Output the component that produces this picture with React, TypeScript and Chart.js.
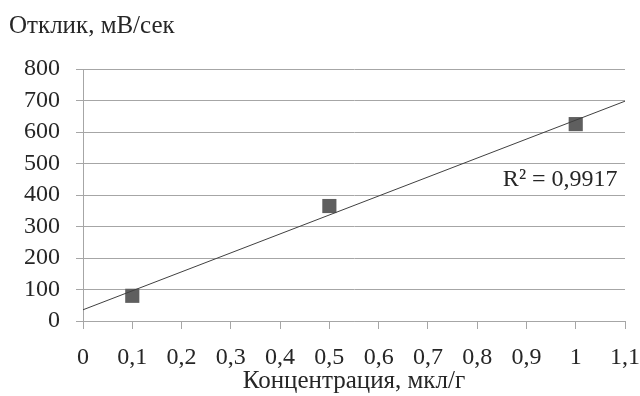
import React, { useEffect, useRef } from "react";
import { Chart, registerables } from "chart.js";

Chart.register(...registerables);

const concentrations = [0.1, 0.5, 1];
const responses = [80, 365, 625];
const xTickValues = [0, 0.1, 0.2, 0.3, 0.4, 0.5, 0.6, 0.7, 0.8, 0.9, 1, 1.1];
const xTickLabels = ["0", "0,1", "0,2", "0,3", "0,4", "0,5", "0,6", "0,7", "0,8", "0,9", "1", "1,1"];
const yTickValues = [0, 100, 200, 300, 400, 500, 600, 700, 800];
const yTitle = "Отклик, мВ/сек";
const xTitle = "Концентрация, мкл/г";
const r2Label = "R² = 0,9917";
const r2Pos = { x: 1.085, y: 448 };

const FONT = "'Liberation Serif', 'Times New Roman', serif";
const TEXT = "#262626";
const GRID = "#a6a6a6";

function regression(xs: number[], ys: number[]) {
  const n = xs.length;
  const mx = xs.reduce((a, b) => a + b, 0) / n;
  const my = ys.reduce((a, b) => a + b, 0) / n;
  let sxy = 0, sxx = 0;
  for (let i = 0; i < n; i++) {
    sxy += (xs[i] - mx) * (ys[i] - my);
    sxx += (xs[i] - mx) * (xs[i] - mx);
  }
  const slope = sxy / sxx;
  return { slope, intercept: my - slope * mx };
}

export default function App() {
  const ref = useRef<HTMLCanvasElement | null>(null);

  useEffect(() => {
    if (!ref.current) return;
    const xMin = xTickValues[0];
    const xMax = xTickValues[xTickValues.length - 1];
    const { slope, intercept } = regression(concentrations, responses);
    const trend = [xMin, xMax].map((x) => ({ x, y: intercept + slope * x }));

    const textPlugin = {
      id: "texts",
      afterDraw(chart: any) {
        const ctx = chart.ctx;
        const xs = chart.scales.x;
        const ys = chart.scales.y;
        ctx.save();
        ctx.fillStyle = TEXT;
        ctx.textBaseline = "middle";
        ctx.font = `25px ${FONT}`;
        ctx.textAlign = "left";
        ctx.fillText(yTitle, 9, 26);
        ctx.font = `24px ${FONT}`;
        ctx.textAlign = "right";
        ctx.fillText(r2Label, xs.getPixelForValue(r2Pos.x), ys.getPixelForValue(r2Pos.y));
        ctx.restore();
      },
    };

    const chart = new Chart(ref.current, {
      type: "scatter",
      data: {
        datasets: [
          {
            data: trend,
            showLine: true,
            borderColor: "#404040",
            borderWidth: 1,
            pointRadius: 0,
            order: 0,
          },
          {
            data: concentrations.map((x, i) => ({ x, y: responses[i] })),
            pointStyle: "rect",
            pointRadius: 10,
            backgroundColor: "#5f5f5f",
            borderColor: "#5f5f5f",
            borderWidth: 0,
            order: 1,
          },
        ],
      },
      options: {
        animation: false,
        responsive: true,
        maintainAspectRatio: false,
        layout: { padding: { left: 0, top: 69, right: 15, bottom: 0 } },
        plugins: { legend: { display: false }, tooltip: { enabled: false } },
        scales: {
          x: {
            type: "linear",
            min: xMin,
            max: xMax,
            afterBuildTicks: (s: any) => {
              s.ticks = xTickValues.map((v) => ({ value: v }));
            },
            afterFit: (s: any) => {
              s.height = 75;
              s.paddingLeft = 0;
              s.paddingRight = 0;
            },
            ticks: {
              autoSkip: false,
              maxRotation: 0,
              padding: 14,
              color: TEXT,
              font: { family: FONT, size: 24 },
              callback: (_v: any, i: number) => xTickLabels[i],
            },
            grid: { drawOnChartArea: false, drawTicks: true, tickLength: 8, color: GRID },
            border: { display: true, color: GRID },
            title: {
              display: true,
              text: xTitle,
              color: TEXT,
              font: { family: FONT, size: 25 },
              padding: { top: 0, bottom: 0 },
            },
          },
          y: {
            type: "linear",
            min: yTickValues[0],
            max: yTickValues[yTickValues.length - 1],
            afterBuildTicks: (s: any) => {
              s.ticks = yTickValues.map((v) => ({ value: v }));
            },
            afterFit: (s: any) => {
              s.width = 83;
              s.paddingTop = 0;
              s.paddingBottom = 0;
            },
            ticks: {
              autoSkip: false,
              padding: 16,
              color: TEXT,
              font: { family: FONT, size: 24 },
            },
            grid: { color: GRID, tickLength: 7 },
            border: { display: true, color: GRID },
          },
        },
      },
      plugins: [textPlugin],
    });
    return () => chart.destroy();
  }, []);

  return (
    <div style={{ position: "absolute", left: 0, top: 0, width: 640, height: 396, background: "#fff" }}>
      <canvas ref={ref} />
    </div>
  );
}
